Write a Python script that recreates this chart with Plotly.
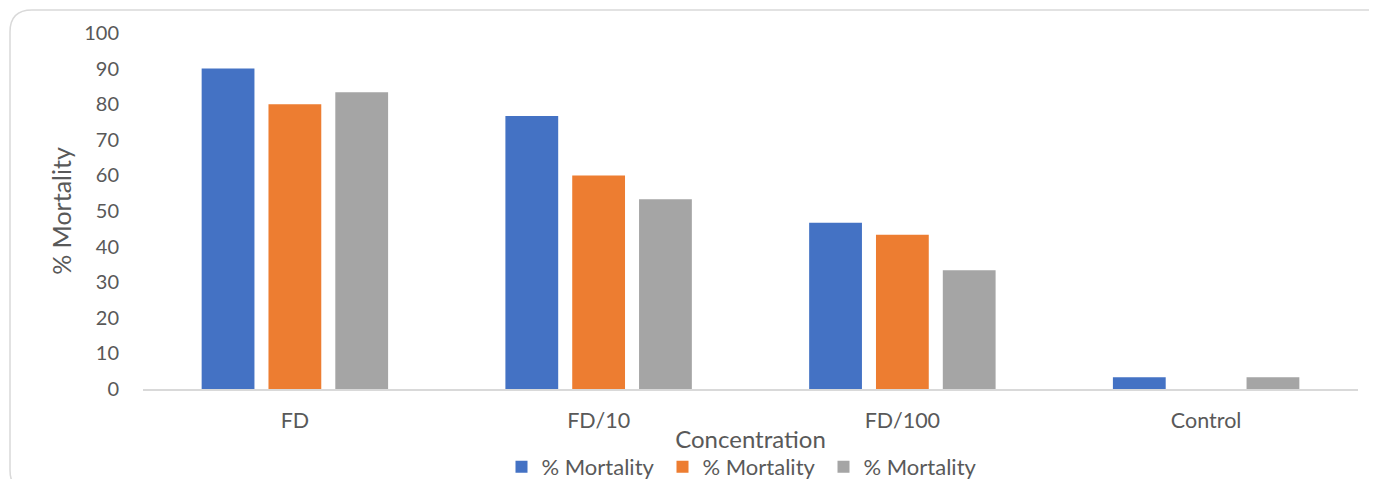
import plotly.graph_objects as go

categories = ["FD", "FD/10", "FD/100", "Control"]
series_names = ["% Mortality", "% Mortality", "% Mortality"]
series1 = [90.0, 76.67, 46.67, 3.33]
series2 = [80.0, 60.0, 43.33, 0.0]
series3 = [83.33, 53.33, 33.33, 3.33]
colors = ["#4472C4", "#ED7D31", "#A5A5A5"]
y_ticks = [0, 10, 20, 30, 40, 50, 60, 70, 80, 90, 100]

FONT = "Lato, 'Open Sans', sans-serif"
TXT = "#595959"

fig = go.Figure()
for name, vals, col in zip(series_names, [series1, series2, series3], colors):
    fig.add_trace(go.Bar(x=categories, y=vals, name=name, marker_color=col,
                         marker_line_width=0))

OFF = 8  # page body margin offset
W, H = 1377 - OFF, 479 - OFF
L, T = 143 - OFF, 33 - OFF
R = W - (1358 - OFF)
B = H - (389 - OFF)
pw, ph = W - L - R, H - T - B

def px2paper(x, y):
    # x, y in screen pixels of the reference
    x -= OFF
    y -= OFF
    return (x - L) / pw, (H - B - y) / ph

# rounded border frame (partially cropped like the reference)
x0, y0, x1, y1, r = 10, 10, 1390, 492, 22
def P(x, y):
    a, b = px2paper(x, y)
    return f"{a:.5f},{b:.5f}"
path = (f"M {P(x0 + r, y0)} L {P(x1 - r, y0)} Q {P(x1, y0)} {P(x1, y0 + r)} "
        f"L {P(x1, y1 - r)} Q {P(x1, y1)} {P(x1 - r, y1)} "
        f"L {P(x0 + r, y1)} Q {P(x0, y1)} {P(x0, y1 - r)} "
        f"L {P(x0, y0 + r)} Q {P(x0, y0)} {P(x0 + r, y0)} Z")
fig.add_shape(type="path", xref="paper", yref="paper", path=path,
              line=dict(color="#d9d9d9", width=1.5), layer="below")

lx, ly = px2paper(743, 467)
fig.update_layout(
    width=W, height=H,
    margin=dict(l=L, r=R, t=T, b=B, autoexpand=False),
    paper_bgcolor="white", plot_bgcolor="white",
    barmode="group", bargap=0.34, bargroupgap=0.21,
    font=dict(family=FONT, color=TXT, size=20),
    showlegend=True,
    legend=dict(orientation="h", x=lx, xanchor="center", y=ly, yanchor="middle",
                bgcolor="rgba(0,0,0,0)",
                font=dict(size=22, color=TXT), entrywidth=116, entrywidthmode="pixels",
                itemwidth=30, tracegroupgap=0),
)
fig.update_xaxes(
    automargin=False,
    showline=True, linecolor="#d9d9d9", linewidth=1.5,
    showgrid=False, ticks="outside", ticklen=11, tickcolor="rgba(0,0,0,0)",
    tickfont=dict(size=21.5, color=TXT),
    title=dict(text="Concentration", font=dict(size=24, color=TXT), standoff=0),
)
fig.update_yaxes(
    automargin=False,
    range=[0, 100], tickvals=y_ticks, showgrid=False, zeroline=False,
    showline=False, ticks="outside", ticklen=19, tickcolor="rgba(0,0,0,0)",
    tickfont=dict(size=20, color=TXT),
    title=dict(text="% Mortality", font=dict(size=25, color=TXT), standoff=5),
)

fig.write_html("out.html")
